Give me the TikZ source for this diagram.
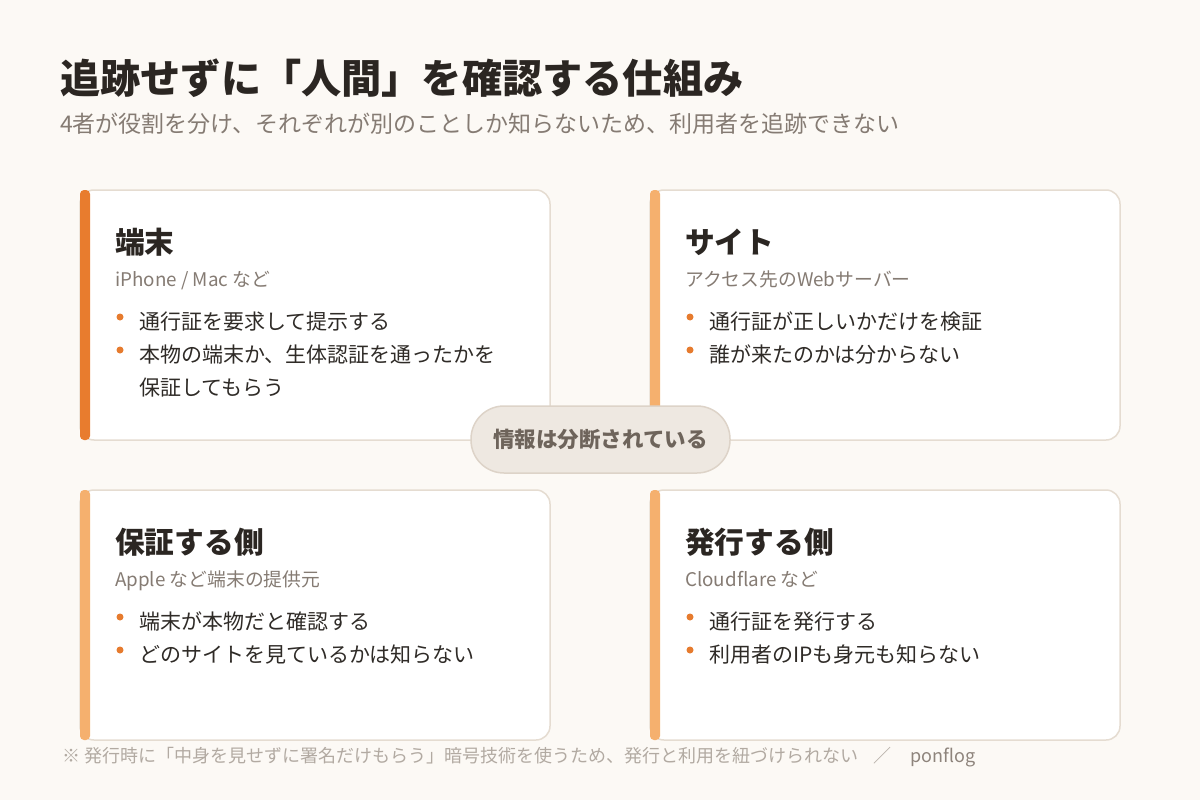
\documentclass[tikz,border=0pt]{standalone}
\usepackage{fontspec}
\setmainfont{Noto Sans CJK JP}
\usetikzlibrary{positioning}
\definecolor{bg}{HTML}{FCF9F5}
\definecolor{cardline}{HTML}{E5DCD1}
\definecolor{accdark}{HTML}{E87C2E}
\definecolor{acclight}{HTML}{F5B06E}
\definecolor{ink}{HTML}{2B2622}
\definecolor{subink}{HTML}{857B73}
\definecolor{bodyink}{HTML}{2F2B27}
\definecolor{dotc}{HTML}{E67B2E}
\definecolor{pillfill}{HTML}{EEE8E1}
\definecolor{pillline}{HTML}{DDD3C8}
\definecolor{pillink}{HTML}{6E645B}
\definecolor{noteink}{HTML}{B2AAA2}
\begin{document}
\begin{tikzpicture}[x=1pt,y=-1pt,
  every node/.style={inner sep=0,anchor=base west},
  card/.style={draw=cardline,line width=1.5pt,fill=white,rounded corners=14pt},
  bar/.style={fill=#1,rounded corners=4pt},
  head/.style={text=ink,font=\bfseries\fontsize{29.7}{34}\selectfont},
  who/.style={text=subink,font=\fontsize{18.8}{22}\selectfont},
  item/.style={text=bodyink,font=\fontsize{21}{25}\selectfont},
  dot/.style={fill=dotc}]
\fill[bg] (0,0) rectangle (1200,800);
\useasboundingbox (0,0) rectangle (1200,800);

\node[text=ink,font=\bfseries\fontsize{40.2}{46}\selectfont] (title) at (60,94) {追跡せずに「人間」を確認する仕組み};
\node[text=subink,font=\fontsize{23}{28}\selectfont] (subtitle) at (60,132) {4者が役割を分け、それぞれが別のことしか知らないため、利用者を追跡できない};

\draw[card] (80,190) rectangle (550,440);
\fill[bar=accdark] (80,190) rectangle (90,440);
\node[head] (tanmatsu) at (115,253) {端末};
\node[who] (tanmatsu-who) at (115,286) {iPhone / Mac など};
\fill[dot] (120,317) circle (3.5);
\node[item] (tanmatsu-1) at (139,329) {通行証を要求して提示する};
\fill[dot] (120,350) circle (3.5);
\node[item] (tanmatsu-2) at (139,362) {本物の端末か、生体認証を通ったかを};
\node[item] (tanmatsu-3) at (139,395) {保証してもらう};

\draw[card] (650,190) rectangle (1120,440);
\fill[bar=acclight] (650,190) rectangle (660,440);
\node[head] (site) at (685,253) {サイト};
\node[who] (site-who) at (685,286) {アクセス先のWebサーバー};
\fill[dot] (690,317) circle (3.5);
\node[item] (site-1) at (709,329) {通行証が正しいかだけを検証};
\fill[dot] (690,350) circle (3.5);
\node[item] (site-2) at (709,362) {誰が来たのかは分からない};

\draw[card] (80,490) rectangle (550,740);
\fill[bar=acclight] (80,490) rectangle (90,740);
\node[head] (hoshou) at (115,553) {保証する側};
\node[who] (hoshou-who) at (115,586) {Apple など端末の提供元};
\fill[dot] (120,617) circle (3.5);
\node[item] (hoshou-1) at (139,629) {端末が本物だと確認する};
\fill[dot] (120,650) circle (3.5);
\node[item] (hoshou-2) at (139,662) {どのサイトを見ているかは知らない};

\draw[card] (650,490) rectangle (1120,740);
\fill[bar=acclight] (650,490) rectangle (660,740);
\node[head] (hakkou) at (685,553) {発行する側};
\node[who] (hakkou-who) at (685,586) {Cloudflare など};
\fill[dot] (690,617) circle (3.5);
\node[item] (hakkou-1) at (709,629) {通行証を発行する};
\fill[dot] (690,650) circle (3.5);
\node[item] (hakkou-2) at (709,662) {利用者のIPも身元も知らない};

\node[anchor=center,draw=pillline,line width=1.5pt,fill=pillfill,rounded corners=33pt,
  minimum width=259pt,minimum height=67pt,text=pillink,
  font=\bfseries\fontsize{21.5}{26}\selectfont] (pill) at (600.5,439.5) {情報は分断されている};

\node[text=noteink,font=\fontsize{18}{21}\selectfont] (note) at (62,762) {※ 発行時に「中身を見せずに署名だけもらう」暗号技術を使うため、発行と利用を紐づけられない};
\node[text=noteink,font=\fontsize{18}{21}\selectfont] (slash) at (873,762) {／};
\node[text=subink!80!noteink,font=\fontsize{18}{21}\selectfont] (credit) at (910,762) {ponflog};
\end{tikzpicture}
\end{document}
